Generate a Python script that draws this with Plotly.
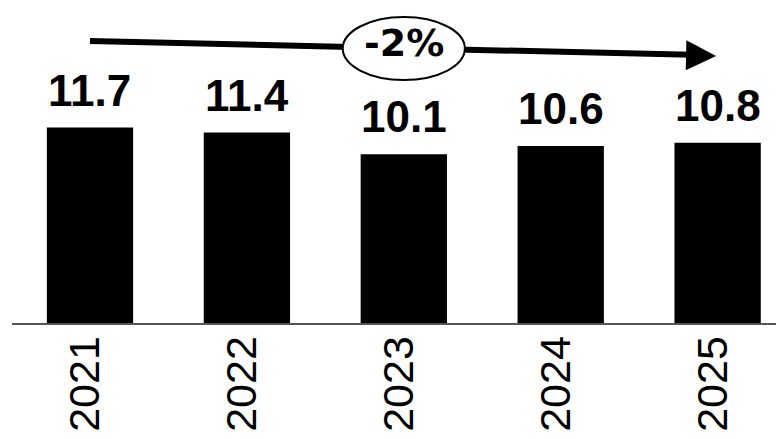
import plotly.graph_objects as go

# Annual values shown as bars
years = ["2021", "2022", "2023", "2024", "2025"]
values = [11.7, 11.4, 10.1, 10.6, 10.8]
change_label = "-2%"

label_font = dict(family="Liberation Sans Narrow, Arial Narrow, Liberation Sans, sans-serif", size=44, color="black", weight="bold")
tick_font = dict(family="Liberation Sans Narrow, Arial Narrow, Liberation Sans, sans-serif", size=43, color="black")

fig = go.Figure(
    go.Bar(
        x=years,
        y=values,
        width=0.55,
        marker=dict(color="black", line=dict(width=0)),
        hoverinfo="skip",
    )
)

# value labels above each bar (positioned by category index)
for i, v in enumerate(values):
    fig.add_annotation(
        x=i, y=v, text=f"{v:.1f}", showarrow=False,
        xref="x", yref="y",
        yanchor="bottom", yshift=11, font=label_font,
    )

# trend arrow across the top, with the change in an ellipse
fig.add_shape(
    type="line", xref="x", yref="y",
    x0=0, y0=16.89, x1=3.9, y1=16.04,
    line=dict(color="black", width=6),
)
fig.add_annotation(
    x=3.99, y=15.99, ax=3.8, ay=16.03, axref="x", ayref="y",
    xref="x", yref="y", text="", showarrow=True,
    arrowhead=2, arrowsize=1, arrowwidth=6, arrowcolor="black",
)
fig.add_shape(
    type="circle", xref="x", yref="y",
    x0=1.611, x1=2.389, y0=14.55, y1=18.32,
    fillcolor="white", line=dict(color="black", width=2),
)
fig.add_annotation(
    x=2, y=16.74, text=change_label, showarrow=False,
    font=dict(family="DejaVu Sans", size=38, color="black", weight="bold"),
)

fig.update_layout(
    width=776, height=439,
    margin=dict(l=12, r=0, t=0, b=116, autoexpand=False),
    plot_bgcolor="white", paper_bgcolor="white",
    showlegend=False,
)
fig.update_xaxes(
    type="category",
    range=[-0.497, 4.372],
    automargin=False,
    showline=True, linecolor="#555555", linewidth=2,
    showgrid=False, zeroline=False,
    tickangle=-90, tickfont=tick_font,
    ticks="outside", ticklen=0, ticklabelstandoff=-6, ticklabelshift=-5,
)
fig.update_yaxes(
    range=[0, 19.34], visible=False, showgrid=False, zeroline=False,
)

fig.write_html("out.html")
